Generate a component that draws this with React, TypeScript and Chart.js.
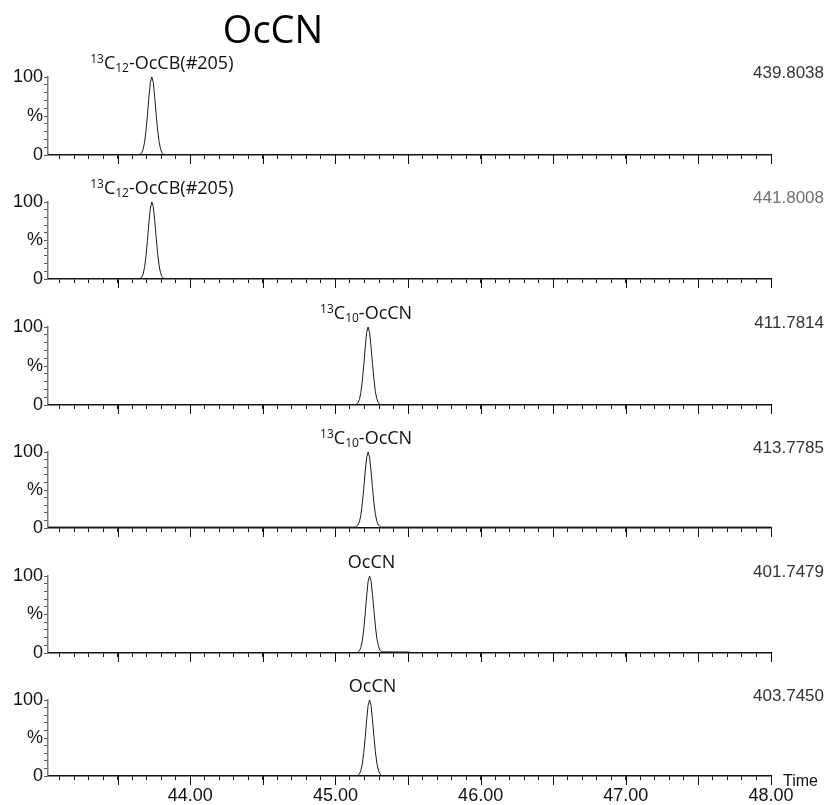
import React, { useEffect, useRef } from 'react';
import { Chart, registerables } from 'chart.js';

Chart.register(...registerables);

// ---------- data ----------
const X_MIN = 43.02;
const X_MAX = 48.0;
const X_LABEL_TIMES = [44, 45, 46, 47, 48];
const Y_LABEL_VALUES = [0, 50, 100];
const Y_LABEL_TEXTS = ['0', '%', '100'];

const CHART_TITLE = 'OcCN';
const AXIS_TITLE = 'Time';

const MASS_LABELS = ['439.8038', '441.8008', '411.7814', '413.7785', '401.7479', '403.7450'];
const MASS_COLORS = ['#333333', '#707070', '#333333', '#333333', '#333333', '#333333'];

const PEAK_TIMES = [43.735, 43.735, 45.225, 45.225, 45.235, 45.235];
const PEAK_SUP = ['13', '13', '13', '13', '', ''];
const PEAK_ELEMENT = ['C', 'C', 'C', 'C', '', ''];
const PEAK_SUB = ['12', '12', '10', '10', '', ''];
const PEAK_NAME = ['-OcCB(#205)', '-OcCB(#205)', '-OcCN', '-OcCN', 'OcCN', 'OcCN'];

const trace1Time = [43.02, 43.645, 43.655, 43.665, 43.675, 43.685, 43.695, 43.705, 43.715, 43.725, 43.735, 43.745, 43.755, 43.765, 43.775, 43.785, 43.795, 43.805, 43.815, 43.825, 48.0];
const trace1Int = [0, 0, 1, 3, 7, 16, 31, 51, 74, 93, 100, 93, 74, 52, 32, 17, 8, 3, 1, 0, 0];

const trace2Time = [43.02, 43.645, 43.655, 43.665, 43.675, 43.685, 43.695, 43.705, 43.715, 43.725, 43.735, 43.745, 43.755, 43.765, 43.775, 43.785, 43.795, 43.805, 43.815, 43.825, 48.0];
const trace2Int = [0, 0, 1, 2, 6, 15, 30, 50, 73, 92, 100, 94, 76, 54, 33, 18, 8, 3, 1, 0, 0];

const trace3Time = [43.02, 45.135, 45.145, 45.155, 45.165, 45.175, 45.185, 45.195, 45.205, 45.215, 45.225, 45.235, 45.245, 45.255, 45.265, 45.275, 45.285, 45.295, 45.305, 45.315, 48.0];
const trace3Int = [0, 0, 1, 3, 7, 16, 31, 51, 74, 93, 100, 93, 75, 53, 33, 17, 8, 3, 1, 0, 0];

const trace4Time = [43.02, 45.135, 45.145, 45.155, 45.165, 45.175, 45.185, 45.195, 45.205, 45.215, 45.225, 45.235, 45.245, 45.255, 45.265, 45.275, 45.285, 45.295, 45.305, 45.315, 48.0];
const trace4Int = [1.2, 1.2, 2, 4, 8, 17, 32, 52, 75, 93, 100, 93, 75, 53, 33, 18, 9, 4, 2, 1.2, 1.2];

const trace5Time = [43.02, 45.145, 45.155, 45.165, 45.175, 45.185, 45.195, 45.205, 45.215, 45.225, 45.235, 45.245, 45.255, 45.265, 45.275, 45.285, 45.295, 45.305, 45.315, 45.325, 45.4, 45.51, 45.52, 48.0];
const trace5Int = [0, 0, 1, 3, 7, 16, 31, 51, 74, 93, 100, 94, 76, 55, 35, 19, 10, 4, 2, 1.5, 1.4, 1.2, 0, 0];

const trace6Time = [43.02, 45.145, 45.155, 45.165, 45.175, 45.185, 45.195, 45.205, 45.215, 45.225, 45.235, 45.245, 45.255, 45.265, 45.275, 45.285, 45.295, 45.305, 45.315, 45.325, 48.0];
const trace6Int = [0, 0, 1, 3, 7, 16, 31, 51, 74, 93, 100, 93, 74, 52, 32, 17, 8, 3, 1, 0, 0];

const TRACE_TIMES = [trace1Time, trace2Time, trace3Time, trace4Time, trace5Time, trace6Time];
const TRACE_INTS = [trace1Int, trace2Int, trace3Int, trace4Int, trace5Int, trace6Int];

// ---------- layout ----------
const W = 834;
const Y100 = [77, 202, 327, 452, 576, 700];
const Y0 = [155, 279, 405, 528, 653, 776];
const CANVAS_TOP = [0, 170, 295, 420, 544, 668];
const CANVAS_BOTTOM = [170, 295, 420, 544, 668, 805];
const PLOT_LEFT = 48;
const PLOT_RIGHT = 771;
const Y_AXIS_W = 40;
const LABEL_DX = [10, 10, -2, -2, 2, 3];

const NUM_FONT = '"Liberation Sans", Arial, sans-serif';
const TXT_FONT = '"Open Sans", "DejaVu Sans", sans-serif';

function isMajor(v: number) {
  return Math.abs(v * 2 - Math.round(v * 2)) < 1e-6;
}

function makePlugin(i: number) {
  return {
    id: 'annot' + i,
    afterDraw(chart: any) {
      const ctx = chart.ctx;
      const xs = chart.scales.x;
      const ys = chart.scales.y;
      const area = chart.chartArea;
      ctx.save();
      // longer major ticks
      ctx.strokeStyle = '#111';
      ctx.lineWidth = 1;
      xs.ticks.forEach((t: any) => {
        if (isMajor(t.value)) {
          const px = Math.round(xs.getPixelForValue(t.value)) + 0.5;
          ctx.beginPath();
          ctx.moveTo(px, area.bottom);
          ctx.lineTo(px, area.bottom + 9);
          ctx.stroke();
        }
      });
      // peak label
      const base = ys.getPixelForValue(100) - 8;
      const parts: { text: string; size: number; dy: number }[] = [];
      if (PEAK_SUP[i]) parts.push({ text: PEAK_SUP[i], size: 12, dy: -6.5 });
      if (PEAK_ELEMENT[i]) parts.push({ text: PEAK_ELEMENT[i], size: 18, dy: 0 });
      if (PEAK_SUB[i]) parts.push({ text: PEAK_SUB[i], size: 12, dy: 2.5 });
      parts.push({ text: PEAK_NAME[i], size: 18, dy: 0 });
      ctx.fillStyle = '#111';
      ctx.textBaseline = 'alphabetic';
      ctx.textAlign = 'left';
      let total = 0;
      const widths = parts.map((p) => {
        ctx.font = `${p.size}px ${TXT_FONT}`;
        const w = ctx.measureText(p.text).width;
        total += w;
        return w;
      });
      let cx = xs.getPixelForValue(PEAK_TIMES[i]) + LABEL_DX[i] - total / 2;
      parts.forEach((p, k) => {
        ctx.font = `${p.size}px ${TXT_FONT}`;
        ctx.fillText(p.text, cx, base + p.dy);
        cx += widths[k];
      });
      // mass label
      ctx.font = `17px ${NUM_FONT}`;
      ctx.fillStyle = MASS_COLORS[i];
      ctx.textAlign = 'right';
      ctx.fillText(MASS_LABELS[i], 824, area.top + 1);
      // title
      if (i === 0) {
        ctx.font = `38px ${TXT_FONT}`;
        ctx.fillStyle = '#000';
        ctx.textAlign = 'center';
        ctx.fillText(CHART_TITLE, 273, 43);
      }
      if (i === 5) {
        ctx.font = `16px ${NUM_FONT}`;
        ctx.fillStyle = '#111';
        ctx.textAlign = 'left';
        ctx.fillText(AXIS_TITLE, 783, area.bottom + 10);
      }
      ctx.restore();
    },
  };
}

function makeConfig(i: number): any {
  const isLast = i === 5;
  const canvasH = CANVAS_BOTTOM[i] - CANVAS_TOP[i];
  const padTop = Y100[i] - CANVAS_TOP[i];
  const plotH = Y0[i] - Y100[i];
  const xH = isLast ? 28 : 10;
  const padBottom = canvasH - padTop - plotH - xH;
  const points = TRACE_TIMES[i].map((t, k) => ({ x: t, y: TRACE_INTS[i][k] }));
  return {
    type: 'line',
    data: {
      datasets: [
        {
          data: points,
          borderColor: '#1a1a1a',
          borderWidth: 1,
          pointRadius: 0,
          tension: 0,
          fill: false,
        },
      ],
    },
    options: {
      animation: false,
      responsive: false,
      maintainAspectRatio: false,
      events: [],
      layout: {
        padding: { left: PLOT_LEFT - Y_AXIS_W, right: W - PLOT_RIGHT, top: padTop, bottom: padBottom },
      },
      plugins: {
        legend: { display: false },
        tooltip: { enabled: false },
        title: { display: false },
      },
      scales: {
        x: {
          type: 'linear',
          min: X_MIN,
          max: X_MAX,
          border: { display: true, color: '#111', width: 1.4 },
          grid: { drawOnChartArea: false, drawTicks: true, tickLength: 4, tickColor: '#111', tickWidth: 1 },
          ticks: {
            stepSize: 0.1,
            autoSkip: false,
            maxRotation: 0,
            minRotation: 0,
            includeBounds: false,
            padding: 5,
            color: '#111',
            font: { family: NUM_FONT, size: 18 },
            callback: (v: number) => {
              if (!isLast) return '';
              const hit = X_LABEL_TIMES.find((t) => Math.abs(t - v) < 1e-6);
              return hit !== undefined ? hit.toFixed(2) : '';
            },
          },
          afterFit: (s: any) => {
            s.height = xH;
          },
        },
        y: {
          type: 'linear',
          min: 0,
          max: 100,
          border: { display: true, color: '#777', width: 1.5 },
          grid: { drawOnChartArea: false, drawTicks: true, tickLength: 4, tickColor: '#555', tickWidth: 1 },
          ticks: {
            stepSize: 10,
            autoSkip: false,
            padding: 1,
            color: '#111',
            font: { family: NUM_FONT, size: 18 },
            callback: (v: number) => {
              const k = Y_LABEL_VALUES.findIndex((t) => Math.abs(t - v) < 1e-6);
              return k >= 0 ? Y_LABEL_TEXTS[k] : '';
            },
          },
          afterFit: (s: any) => {
            s.width = Y_AXIS_W;
          },
        },
      },
    },
    plugins: [makePlugin(i)],
  };
}

function Panel({ index }: { index: number }) {
  const ref = useRef<HTMLCanvasElement>(null);
  useEffect(() => {
    if (!ref.current) return;
    const chart = new Chart(ref.current, makeConfig(index));
    return () => chart.destroy();
  }, [index]);
  const top = CANVAS_TOP[index];
  const h = CANVAS_BOTTOM[index] - top;
  return (
    <canvas
      ref={ref}
      width={W}
      height={h}
      style={{ position: 'absolute', left: 0, top, width: W, height: h, display: 'block' }}
    />
  );
}

export default function App() {
  return (
    <div style={{ position: 'absolute', left: 0, top: 0, width: W, height: 805, background: '#fff', overflow: 'hidden' }}>
      {[0, 1, 2, 3, 4, 5].map((i) => (
        <Panel key={i} index={i} />
      ))}
    </div>
  );
}
